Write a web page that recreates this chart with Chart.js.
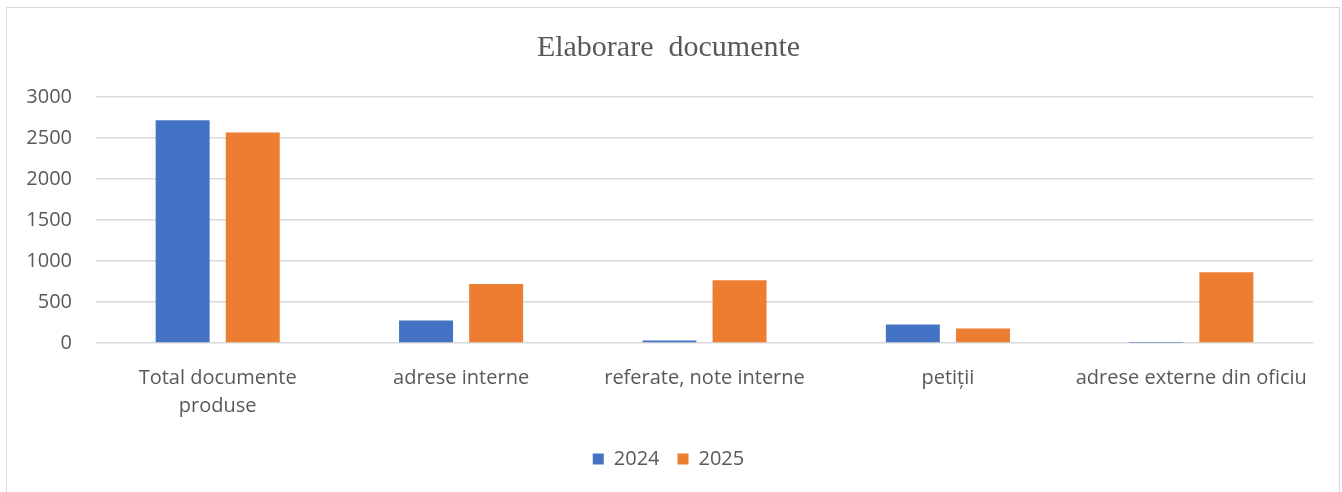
<!DOCTYPE html>
<html>
<head>
<meta charset="utf-8">
<script src="https://cdn.jsdelivr.net/npm/chart.js@4"></script>
<style>
  body { margin: 0; background: #fff; }
  #wrap { position: relative; width: 1342px; height: 492px; overflow: hidden; }
  #frame { position: absolute; left: 6px; top: 7px; width: 1334px; height: 520px; border: 1px solid #d9d9d9; box-sizing: border-box; }
  canvas { position: absolute; left: 0; top: 0; }
</style>
</head>
<body>
<div id="wrap">
  <div id="frame"></div>
  <canvas id="docChart" width="1342" height="492"></canvas>
</div>
<script>
const labels = [
  ['Total documente', 'produse'],
  'adrese interne',
  'referate, note interne',
  'petiții',
  'adrese externe din oficiu'
];
const values2024 = [2715, 275, 30, 225, 3];
const values2025 = [2568, 720, 765, 176, 862];
const yTicks = [0, 500, 1000, 1500, 2000, 2500, 3000];

const gray = '#595959';
const tickFont = { family: '"Open Sans", sans-serif', size: 20 };

new Chart(document.getElementById('docChart'), {
  type: 'bar',
  data: {
    labels: labels,
    datasets: [
      {
        label: '2024',
        data: values2024,
        backgroundColor: '#4472C4',
        categoryPercentage: 0.576,
        barPercentage: 0.77
      },
      {
        label: '2025',
        data: values2025,
        backgroundColor: '#ED7D31',
        categoryPercentage: 0.576,
        barPercentage: 0.77
      }
    ]
  },
  options: {
    responsive: false,
    animation: false,
    layout: { padding: { top: 0, bottom: 13, left: 24, right: 29 } },
    plugins: {
      title: {
        display: true,
        text: 'Elaborare  documente',
        color: gray,
        font: { family: '"Liberation Serif", serif', size: 30, weight: 'normal', lineHeight: 1.2 },
        padding: { top: 30, bottom: 31 }
      },
      legend: {
        position: 'bottom',
        labels: {
          color: gray,
          font: tickFont,
          boxWidth: 11,
          boxHeight: 11,
          padding: 18
        }
      },
      tooltip: { enabled: false }
    },
    scales: {
      x: {
        grid: { display: false, drawTicks: false },
        border: { display: false },
        ticks: { color: gray, font: { ...tickFont, lineHeight: 1.4 }, padding: 21, maxRotation: 0, autoSkip: false },
        afterFit: s => { s.height = 88; }
      },
      y: {
        min: 0,
        max: 3000,
        afterBuildTicks: s => { s.ticks = yTicks.map(v => ({ value: v })); },
        grid: { color: '#d9d9d9', lineWidth: 1.5, drawTicks: false },
        border: { display: false },
        ticks: { color: gray, font: tickFont, padding: 24, callback: v => String(v) },
        afterFit: s => { s.width = 72; }
      }
    }
  }
});
</script>
</body>
</html>
